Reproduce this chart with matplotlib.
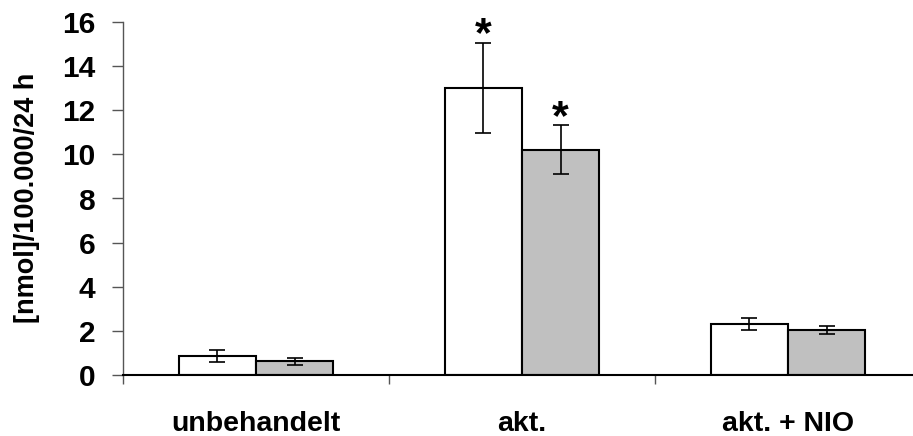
import matplotlib
matplotlib.use("Agg")
import matplotlib.pyplot as plt
import numpy as np

plt.rcParams['font.family'] = ['Liberation Sans', 'DejaVu Sans']

categories = ["unbehandelt", "akt.", "akt. + NIO"]
white_vals = [0.85, 13.0, 2.32]
white_err = [0.27, 2.05, 0.28]
gray_vals = [0.62, 10.22, 2.05]
gray_err = [0.16, 1.1, 0.18]
significant_white = [False, True, False]
significant_gray = [False, True, False]
ylabel = "[nmol]/100.000/24 h"
yticks = [0, 2, 4, 6, 8, 10, 12, 14, 16]

fig = plt.figure(figsize=(9.13, 4.36), dpi=100)
ax = fig.add_axes([123/913, 61/436, 798/913, 353/436])

x = np.arange(len(categories)) + 0.5
w = 0.29
ekw = dict(elinewidth=1.2, capthick=1.2, ecolor='black')
ax.bar(x - w/2, white_vals, w, color='white', edgecolor='black', linewidth=1.5,
       yerr=white_err, capsize=6, error_kw=ekw, zorder=2)
ax.bar(x + w/2, gray_vals, w, color='#c0c0c0', edgecolor='black', linewidth=1.5,
       yerr=gray_err, capsize=6, error_kw=ekw, zorder=2)

def star(xs, vals, errs, flags):
    for xi, v, e, s in zip(xs, vals, errs, flags):
        if s:
            ax.annotate("*", (xi, v + e), xytext=(0, -2.5), textcoords='offset points',
                        ha='center', va='baseline', fontsize=31, fontweight='bold')

star(x - w/2, white_vals, white_err, significant_white)
star(x + w/2, gray_vals, gray_err, significant_gray)

ax.set_xlim(0, 3)
ax.set_ylim(0, 16)
ax.set_yticks(yticks)
ax.set_xticks([0, 1, 2, 3])
ax.set_xticklabels([])
ax.set_xticks(x, minor=True)
ax.set_xticklabels(categories, minor=True, fontsize=20.5, fontweight='bold')
ax.tick_params(axis='x', which='minor', length=0, pad=26)
ax.tick_params(axis='x', which='major', length=6.5, width=1, color='#555555', direction='out')
ax.tick_params(axis='y', length=8, width=1, color='#555555', direction='out', pad=12,
               labelsize=21.5)
for lab in ax.get_yticklabels():
    lab.set_fontweight('bold')

ax.spines['top'].set_visible(False)
ax.spines['right'].set_visible(False)
ax.spines['left'].set_color('#555555')
ax.spines['left'].set_linewidth(1)
ax.spines['bottom'].set_color('black')
ax.spines['bottom'].set_linewidth(1.5)
ax.spines['bottom'].set_zorder(3)

ax.set_ylabel(ylabel, fontsize=19.5, fontweight='bold', va='center')
ax.yaxis.set_label_coords(-0.1203, 0.503)

fig.savefig("out.png", dpi=100)
